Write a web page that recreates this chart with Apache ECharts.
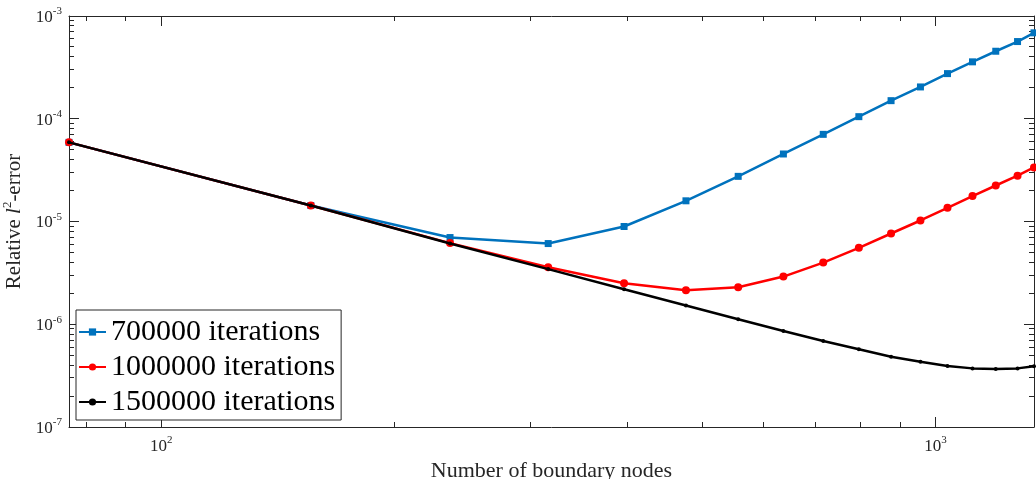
<!DOCTYPE html>
<html>
<head>
<meta charset="utf-8">
<script src="https://cdn.jsdelivr.net/npm/echarts@6/dist/echarts.min.js"></script>
<style>
  html, body { margin: 0; padding: 0; background: #fff; }
  #chart { width: 1036px; height: 479px; }
</style>
</head>
<body>
<div id="chart"></div>
<script>
// Number of boundary nodes (shared x values of all three runs)
const boundaryNodes = [76, 156, 236, 316, 396, 476, 556, 636, 716, 796, 876, 956, 1036, 1116, 1196, 1276, 1340];

// Relative l2-error per run
const err700k = [5.89e-5, 1.43e-5, 6.98e-6, 6.10e-6, 8.94e-6, 1.59e-5, 2.75e-5, 4.54e-5, 7.05e-5, 1.048e-4,
                 1.50e-4, 2.04e-4, 2.75e-4, 3.58e-4, 4.54e-4, 5.64e-4, 6.86e-4];
const err1000k = [5.89e-5, 1.43e-5, 6.16e-6, 3.59e-6, 2.51e-6, 2.145e-6, 2.29e-6, 2.91e-6, 3.98e-6, 5.54e-6,
                  7.64e-6, 1.023e-5, 1.36e-5, 1.77e-5, 2.24e-5, 2.79e-5, 3.36e-5];
const err1500k = [5.89e-5, 1.43e-5, 6.10e-6, 3.44e-6, 2.19e-6, 1.52e-6, 1.12e-6, 8.61e-7, 6.87e-7, 5.71e-7,
                  4.83e-7, 4.32e-7, 3.92e-7, 3.72e-7, 3.67e-7, 3.72e-7, 3.90e-7];

const seriesNames = ['700000 iterations', '1000000 iterations', '1500000 iterations'];

// Axis ranges and minor tick positions
const xRange = [76, 1340];
const yRange = [1e-7, 1e-3];
const xMinorTicks = [80, 90, 200, 300, 400, 500, 600, 700, 800, 900];
const yMinorMantissas = [2, 3, 4, 5, 6, 7, 8, 9];
const yMinorDecades = [-7, -6, -5, -4];

const SERIF = '"Liberation Serif", "Times New Roman", serif';
const AXIS_COLOR = '#262626';

function powerLabel(v) {
  const e = Math.log10(v);
  const r = Math.round(e);
  if (Math.abs(e - r) > 1e-6) return '';
  return '{b|10}{s|' + r + '}';
}

const labelRich = {
  b: { fontFamily: SERIF, fontSize: 17, color: AXIS_COLOR, lineHeight: 20, verticalAlign: 'bottom' },
  s: { fontFamily: SERIF, fontSize: 11, color: AXIS_COLOR, lineHeight: 20, verticalAlign: 'top' }
};

function boxAxis(extra) {
  return Object.assign({
    type: 'log',
    logBase: 10,
    axisLine: { show: true, onZero: false, lineStyle: { color: AXIS_COLOR, width: 1 } },
    axisTick: { show: true, inside: true, length: 10, lineStyle: { color: AXIS_COLOR, width: 1 } },
    splitLine: { show: false },
    minorTick: { show: false }
  }, extra);
}

const chart = echarts.init(document.getElementById('chart'), null, { renderer: 'canvas' });

const option = {
  animation: false,
  backgroundColor: '#fff',
  grid: { left: 69, right: 2, top: 16, bottom: 52, containLabel: false, outerBoundsMode: 'none' },
  xAxis: [
    boxAxis({
      position: 'bottom', min: xRange[0], max: xRange[1],
      axisLabel: { show: true, margin: 8, formatter: powerLabel, rich: labelRich },
      name: 'Number of boundary nodes', nameLocation: 'middle', nameGap: 29,
      nameTextStyle: { fontFamily: SERIF, fontSize: 22, color: AXIS_COLOR }
    }),
    boxAxis({ position: 'top', min: xRange[0], max: xRange[1], axisLabel: { show: false } })
  ],
  yAxis: [
    boxAxis({
      position: 'left', min: yRange[0], max: yRange[1],
      axisLabel: { show: true, margin: 7, formatter: powerLabel, rich: labelRich },
      name: '{r|Relative }{i|l}{s|2}{r|-error}', nameLocation: 'middle', nameGap: 44, nameRotate: 90,
      nameTextStyle: {
        rich: {
          r: { fontFamily: SERIF, fontSize: 21, color: AXIS_COLOR, lineHeight: 24, verticalAlign: 'bottom' },
          i: { fontFamily: SERIF, fontSize: 21, fontStyle: 'italic', color: AXIS_COLOR, lineHeight: 24, verticalAlign: 'bottom' },
          s: { fontFamily: SERIF, fontSize: 13, color: AXIS_COLOR, lineHeight: 24, verticalAlign: 'top' }
        }
      }
    }),
    boxAxis({ position: 'right', min: yRange[0], max: yRange[1], axisLabel: { show: false } })
  ],
  legend: {
    data: seriesNames,
    orient: 'vertical',
    left: 76,
    top: 310,
    itemWidth: 27,
    itemHeight: 9,
    itemGap: 5,
    padding: [7, 6, 3, 2],
    borderColor: AXIS_COLOR,
    borderWidth: 1,
    borderRadius: 0,
    backgroundColor: '#fff',
    textStyle: { fontFamily: SERIF, fontSize: 30, color: '#000' }
  },
  series: [
    {
      name: seriesNames[0], type: 'line',
      data: boundaryNodes.map((x, i) => [x, err700k[i]]),
      symbol: 'rect', symbolSize: 7,
      lineStyle: { color: '#0072BD', width: 2.5 },
      itemStyle: { color: '#0072BD' },
      z: 2
    },
    {
      name: seriesNames[1], type: 'line',
      data: boundaryNodes.map((x, i) => [x, err1000k[i]]),
      symbol: 'circle', symbolSize: 8,
      lineStyle: { color: '#FF0000', width: 2.5 },
      itemStyle: { color: '#FF0000' },
      z: 3
    },
    {
      name: seriesNames[2], type: 'line',
      data: boundaryNodes.map((x, i) => [x, err1500k[i]]),
      symbol: 'circle', symbolSize: 4,
      lineStyle: { color: '#000000', width: 2.5 },
      itemStyle: { color: '#000000' },
      z: 4
    }
  ]
};

chart.setOption(option);

// Minor ticks on all four sides of the box, placed through the axes' own scales
function drawMinorTicks() {
  const len = 5;
  const xl = chart.convertToPixel({ xAxisIndex: 0 }, xRange[0]);
  const xr = chart.convertToPixel({ xAxisIndex: 0 }, xRange[1]);
  const yb = chart.convertToPixel({ yAxisIndex: 0 }, yRange[0]);
  const yt = chart.convertToPixel({ yAxisIndex: 0 }, yRange[1]);
  const els = [];
  const style = { stroke: AXIS_COLOR, lineWidth: 1 };
  const snap = v => Math.round(v - 0.5) + 0.5;
  xMinorTicks.forEach(v => {
    const px = snap(chart.convertToPixel({ xAxisIndex: 0 }, v));
    els.push({ type: 'line', silent: true, shape: { x1: px, y1: yb, x2: px, y2: yb - len }, style });
    els.push({ type: 'line', silent: true, shape: { x1: px, y1: yt, x2: px, y2: yt + len }, style });
  });
  yMinorDecades.forEach(d => {
    yMinorMantissas.forEach(m => {
      const py = snap(chart.convertToPixel({ yAxisIndex: 0 }, m * Math.pow(10, d)));
      els.push({ type: 'line', silent: true, shape: { x1: xl, y1: py, x2: xl + len, y2: py }, style });
      els.push({ type: 'line', silent: true, shape: { x1: xr, y1: py, x2: xr - len, y2: py }, style });
    });
  });
  chart.setOption({ graphic: { elements: els } });
}
drawMinorTicks();
</script>
</body>
</html>
